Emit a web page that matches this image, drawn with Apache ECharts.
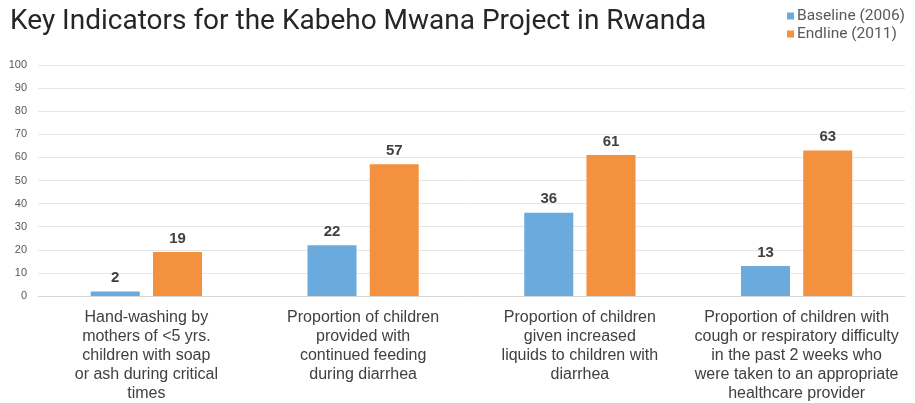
<!DOCTYPE html>
<html>
<head>
<meta charset="utf-8">
<script src="https://cdn.jsdelivr.net/npm/echarts@6/dist/echarts.min.js"></script>
<style>
  html, body { margin: 0; padding: 0; background: #fff; }
  #main { width: 915px; height: 403px; }
</style>
</head>
<body>
<div id="main"></div>
<script>
// 分类标签（按原图手动换行）
var categories = [
    'Hand-washing by\nmothers of <5 yrs.\nchildren with soap\nor ash during critical\ntimes',
    'Proportion of children\nprovided with\ncontinued feeding\nduring diarrhea',
    'Proportion of children\ngiven increased\nliquids to children with\ndiarrhea',
    'Proportion of children with\ncough or respiratory difficulty\nin the past 2 weeks who\nwere taken to an appropriate\nhealthcare provider'
];
var baseline = [2, 22, 36, 13];
var endline = [19, 57, 61, 63];
var yTicks = [0, 10, 20, 30, 40, 50, 60, 70, 80, 90, 100];

var myChart = echarts.init(document.getElementById('main'));

var labelStyle = {
    show: true,
    position: 'top',
    distance: 6,
    fontFamily: 'Liberation Sans',
    fontWeight: 'bold',
    fontSize: 15,
    color: '#404040'
};

var option = {
    animation: false,
    title: {
        text: 'Key Indicators for the Kabeho Mwana Project in Rwanda',
        left: 5,
        top: 3,
        textStyle: {
            fontFamily: 'Roboto',
            fontWeight: 'normal',
            fontSize: 28,
            color: '#262626'
        }
    },
    legend: {
        orient: 'vertical',
        left: 782,
        top: 3,
        itemWidth: 7,
        itemHeight: 7,
        itemGap: 2,
        icon: 'rect',
        textStyle: {
            fontFamily: 'Roboto',
            fontSize: 15.5,
            color: '#595959',
            padding: [0, 0, 0, -2]
        },
        data: ['Baseline (2006)', 'Endline (2011)']
    },
    grid: {
        left: 38,
        right: 10,
        top: 65,
        bottom: 107,
        containLabel: false
    },
    xAxis: {
        type: 'category',
        data: categories,
        axisLine: { lineStyle: { color: '#d9d9d9', width: 1 } },
        axisTick: { show: false },
        axisLabel: {
            interval: 0,
            margin: 12,
            fontFamily: 'Liberation Sans',
            fontSize: 16,
            lineHeight: 19,
            color: '#404040'
        }
    },
    yAxis: {
        type: 'value',
        min: yTicks[0],
        max: yTicks[yTicks.length - 1],
        interval: 10,
        axisLine: { show: false },
        axisTick: { show: false },
        splitLine: { lineStyle: { color: '#e6e6e6', width: 1 } },
        axisLabel: {
            margin: 11,
            fontFamily: 'Liberation Sans',
            fontSize: 11,
            color: '#595959'
        }
    },
    series: [
        {
            name: 'Baseline (2006)',
            type: 'bar',
            barWidth: 49,
            barGap: '27%',
            itemStyle: { color: '#6aaadc' },
            label: labelStyle,
            data: baseline
        },
        {
            name: 'Endline (2011)',
            type: 'bar',
            barWidth: 49,
            barGap: '27%',
            itemStyle: { color: '#f3913f' },
            label: labelStyle,
            data: endline
        }
    ]
};

myChart.setOption(option);
</script>
</body>
</html>
